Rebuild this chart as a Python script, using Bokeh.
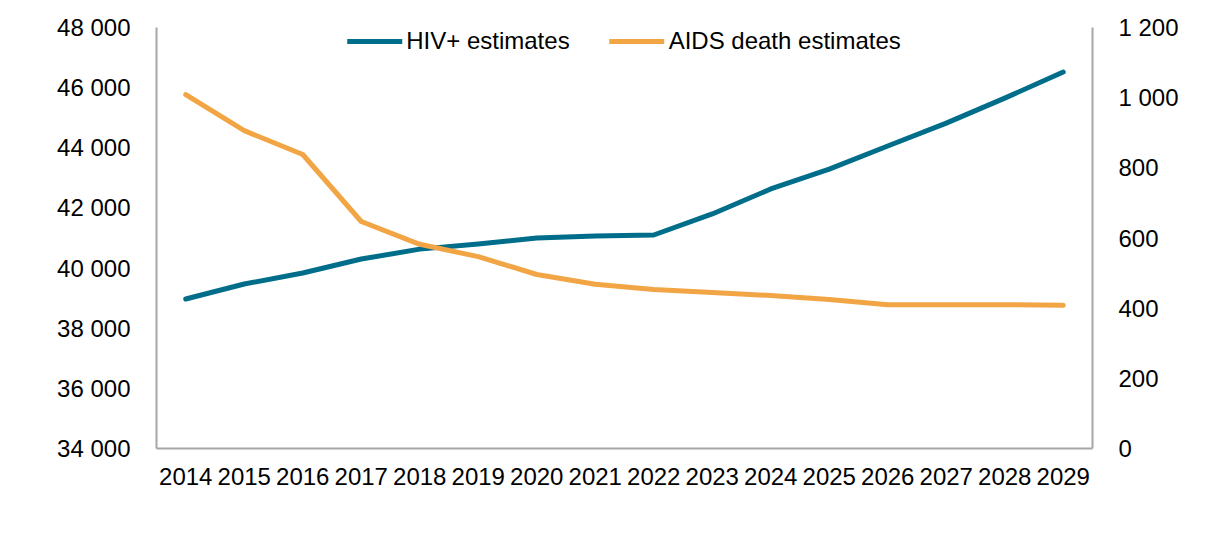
from bokeh.plotting import figure
from bokeh.models import Range1d, LinearAxis, FixedTicker, Legend, LegendItem, FactorRange
from bokeh.embed import file_html
from bokeh.resources import INLINE

years = [str(y) for y in range(2014, 2030)]
hiv = [38970, 39470, 39835, 40300, 40630, 40800, 41000, 41070, 41100,
       41800, 42630, 43290, 44060, 44820, 45650, 46520]
aids = [1009, 906, 838, 647, 582, 547, 496, 468, 453, 445, 436, 425, 410, 410, 410, 408]

left_ticks = [34000, 36000, 38000, 40000, 42000, 44000, 46000, 48000]
left_labels = ["34 000", "36 000", "38 000", "40 000", "42 000", "44 000", "46 000", "48 000"]
right_ticks = [0, 200, 400, 600, 800, 1000, 1200]
right_labels = ["0", "200", "400", "600", "800", "1 000", "1 200"]

FONT = "Liberation Sans"
AXIS_COLOR = "#a6a6a6"
TEAL = "#006e8a"
ORANGE = "#f2a544"

p = figure(width=1206, height=522, x_range=FactorRange(*years),
           y_range=Range1d(34000, 48000), output_backend="svg", toolbar_location=None,
           min_border_left=156, min_border_right=114, min_border_top=27, min_border_bottom=74)
p.extra_y_ranges = {"right": Range1d(0, 1200)}
p.outline_line_color = None
p.xgrid.grid_line_color = None
p.ygrid.grid_line_color = None
p.x_range.range_padding = 0

r1 = p.line(years, hiv, line_color=TEAL, line_width=5, line_cap="round", line_join="round")
r2 = p.line(years, aids, line_color=ORANGE, line_width=5, line_cap="round", line_join="round",
            y_range_name="right")

def style(ax):
    ax.axis_line_color = AXIS_COLOR
    ax.axis_line_width = 2
    ax.major_tick_line_color = None
    ax.minor_tick_line_color = None
    ax.major_label_text_font = FONT
    ax.major_label_text_font_size = "24px"
    ax.major_label_text_color = "#000000"

yl = p.yaxis[0]
yl.ticker = FixedTicker(ticks=left_ticks)
yl.major_label_overrides = dict(zip(left_ticks, left_labels))
yl.major_label_standoff = 20
style(yl)

yr = LinearAxis(y_range_name="right", ticker=FixedTicker(ticks=right_ticks))
yr.major_label_overrides = dict(zip(right_ticks, right_labels))
yr.major_label_standoff = 20
style(yr)
p.add_layout(yr, "right")

xa = p.xaxis[0]
xa.major_label_standoff = 13
style(xa)

legend = Legend(items=[LegendItem(label="HIV+ estimates", renderers=[r1]),
                       LegendItem(label="AIDS death estimates", renderers=[r2])],
                location="top_center", orientation="horizontal")
legend.background_fill_alpha = 0
legend.border_line_color = None
legend.label_text_font = FONT
legend.label_text_font_size = "24px"
legend.label_text_color = "#000000"
legend.glyph_width = 55
legend.label_standoff = 4
legend.spacing = 40
legend.margin = 0
legend.padding = 0
p.add_layout(legend)

open("out.html", "w").write(file_html(p, INLINE))
